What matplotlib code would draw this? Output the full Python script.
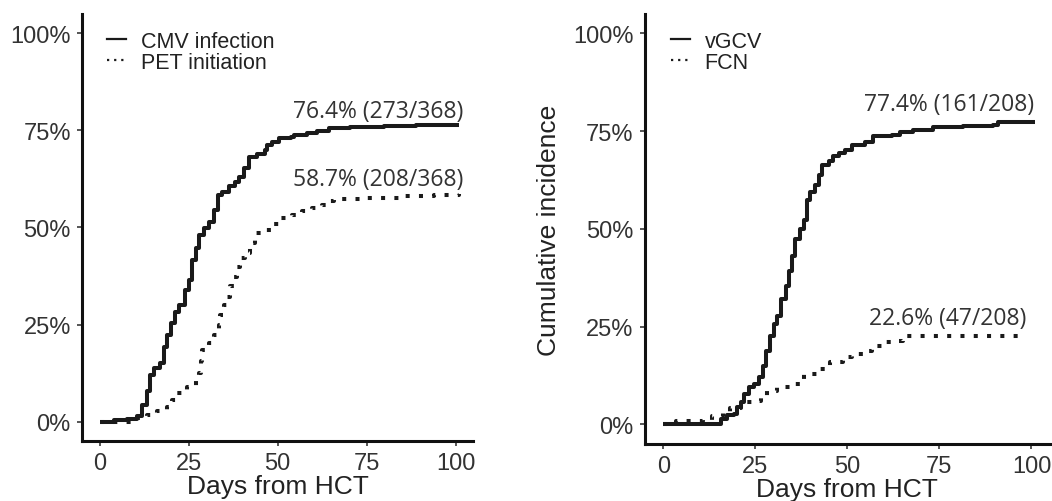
import matplotlib
matplotlib.use("Agg")
import matplotlib.pyplot as plt
from matplotlib.lines import Line2D
from matplotlib.ticker import PercentFormatter

plt.rcParams["font.family"] = ["Liberation Sans", "DejaVu Sans"]

# ---- data (days from HCT, cumulative incidence %) ----
cmv_days = [0, 4, 7.7, 10.5, 11.9, 13.3, 14, 15.2, 17, 18, 18.8, 20, 21, 22.2, 24, 25,
            25.9, 26.9, 28, 29.2, 30.6, 32, 33.1, 34.4, 36.2, 38.1, 39, 40.4, 41.9,
            44.2, 46.5, 47, 48.4, 50.3, 53.6, 54.5, 58.2, 61, 64.3, 70.4, 79.8, 89, 101]
cmv_pct = [0, 0.3, 0.6, 1.5, 4.3, 8, 12, 13.7, 15, 19.3, 22.3, 25.3, 28.3, 30, 34, 36.5,
           41.6, 44.6, 48, 49.8, 51.5, 54.5, 58.4, 59.2, 60.7, 61.6, 63, 65.2, 68.2,
           68.9, 70, 71.2, 72.1, 73, 73.4, 73.8, 74.3, 74.9, 75.5, 75.8, 76.1, 76.4, 76.4]

pet_days = [0, 10.5, 13.3, 16, 19, 20.3, 21.7, 24.5, 26.9, 28, 28.3, 28.7, 30.6, 32,
            33.4, 33.9, 34.8, 35.8, 36.7, 37.6, 38.6, 39.5, 40.9, 42.3, 43.7, 46, 48.9,
            50.7, 54, 56.8, 59.6, 62.5, 64.3, 65.7, 75, 84.5, 93.8, 101]
pet_pct = [0, 0.8, 1.7, 2.6, 3.7, 5.6, 7.3, 9, 10.7, 12.4, 15.5, 18.5, 20.2, 22.3,
           24.9, 27.5, 30, 32.2, 34.8, 37.3, 39.9, 42, 43.3, 45.9, 48.5, 49.4, 51,
           52.4, 53.2, 54.1, 54.9, 55.8, 56.9, 57.3, 57.5, 58, 58.4, 58.7]

vgcv_days = [0, 15.6, 17.4, 19.2, 20.1, 21, 21.9, 23.2, 24.6, 25.9, 27, 27.9, 28.9, 30,
             30.9, 32, 33.2, 34.1, 35, 35.9, 37.2, 38.1, 39, 39.9, 41.3, 42.2, 43.1,
             44.9, 46.2, 47.6, 49.4, 51.2, 54.8, 57, 62, 64.2, 67.8, 73.2, 81.4, 89.5,
             90.8, 101]
vgcv_pct = [0, 1.3, 2.3, 2.7, 4.4, 5.7, 7.8, 9.5, 10.4, 12.1, 15, 18.9, 22.7, 25.7,
            27.8, 32, 35.4, 39.3, 43.1, 47.3, 49.9, 52.4, 57.5, 59.4, 61.3, 63.9, 66.4,
            67.3, 68.6, 69.4, 70.3, 71.5, 72.1, 73.7, 74.1, 74.9, 75.4, 76, 76.4, 76.6,
            77.4, 77.4]

fcn_days = [0, 3.5, 10.8, 13.2, 16.1, 18.1, 21, 24, 26.5, 28.3, 31, 34.5, 38.1, 41.7,
            45.3, 48.9, 51.2, 54.3, 56.6, 59.7, 63.3, 65.1, 98.5]
fcn_pct = [0, 0.8, 1.2, 2.1, 3.2, 4.3, 5.8, 5.9, 6.8, 8.6, 9.6, 10.4, 12.9, 14.2,
           15.9, 17.2, 18, 18.9, 20.1, 21, 21.4, 22.6, 22.6]

left_labels = ["CMV infection", "PET initiation"]
right_labels = ["vGCV", "FCN"]
left_notes = ["76.4% (273/368)", "58.7% (208/368)"]
right_notes = ["77.4% (161/208)", "22.6% (47/208)"]

LINE_W = 2.9
DOT = (0, (1, 2.3))
NOTE_FONT = ["Open Sans", "DejaVu Sans"]
NOTE_COLOR = "#333333"
NOTE_SIZE = 16.5

fig = plt.figure(figsize=(10.52, 5.02), dpi=100)
ax1 = fig.add_axes([0.078, 0.1195, 0.372, 0.851])
ax2 = fig.add_axes([0.613, 0.1135, 0.385, 0.857])


def style(ax):
    ax.set_xlim(-5, 105)
    ax.set_ylim(-5, 105)
    ax.set_xticks([0, 25, 50, 75, 100])
    ax.set_yticks([0, 25, 50, 75, 100])
    ax.yaxis.set_major_formatter(PercentFormatter(100, decimals=0))
    for s in ["top", "right"]:
        ax.spines[s].set_visible(False)
    for s in ["left", "bottom"]:
        ax.spines[s].set_linewidth(2.2)
        ax.spines[s].set_color("#111111")
    ax.tick_params(direction="out", length=3.6, width=1.4, color="#555555",
                   labelsize=17, labelcolor="#333333")
    ax.tick_params(axis="y", pad=4.5)
    ax.tick_params(axis="x", pad=4)
    ax.set_xlabel("Days from HCT", fontsize=19, color="#222222", labelpad=0)


def curves(ax, d1, p1, d2, p2, labels):
    ax.step(d1, p1, where="post", color="#1a1a1a", lw=LINE_W, solid_capstyle="butt")
    ax.step(d2, p2, where="post", color="#1a1a1a", lw=LINE_W, linestyle=DOT,
            dash_capstyle="butt")
    handles = [Line2D([], [], color="#1a1a1a", lw=1.6),
               Line2D([], [], color="#1a1a1a", lw=1.6, linestyle=(0, (1, 2.2)))]
    ax.legend(handles, labels, loc="upper left", frameon=False, fontsize=15.5,
              bbox_to_anchor=(0.065, 0.96), borderaxespad=0, borderpad=0,
              labelspacing=0.0, handlelength=0.85, handletextpad=0.7,
              labelcolor="#222222")


style(ax1)
curves(ax1, cmv_days, cmv_pct, pet_days, pet_pct, left_labels)
ax1.text(102.2, 78.4, left_notes[0], ha="right", va="baseline", fontsize=NOTE_SIZE,
         family=NOTE_FONT, color=NOTE_COLOR)
ax1.text(102.2, 60.9, left_notes[1], ha="right", va="baseline", fontsize=NOTE_SIZE,
         family=NOTE_FONT, color=NOTE_COLOR)

style(ax2)
curves(ax2, vgcv_days, vgcv_pct, fcn_days, fcn_pct, right_labels)
ax2.set_ylabel("Cumulative incidence", fontsize=19, color="#222222", labelpad=9)
ax2.text(100.8, 80.4, right_notes[0], ha="right", va="baseline", fontsize=NOTE_SIZE,
         family=NOTE_FONT, color=NOTE_COLOR)
ax2.text(98.6, 25.7, right_notes[1], ha="right", va="baseline", fontsize=NOTE_SIZE,
         family=NOTE_FONT, color=NOTE_COLOR)

fig.savefig("out.png", dpi=100)
